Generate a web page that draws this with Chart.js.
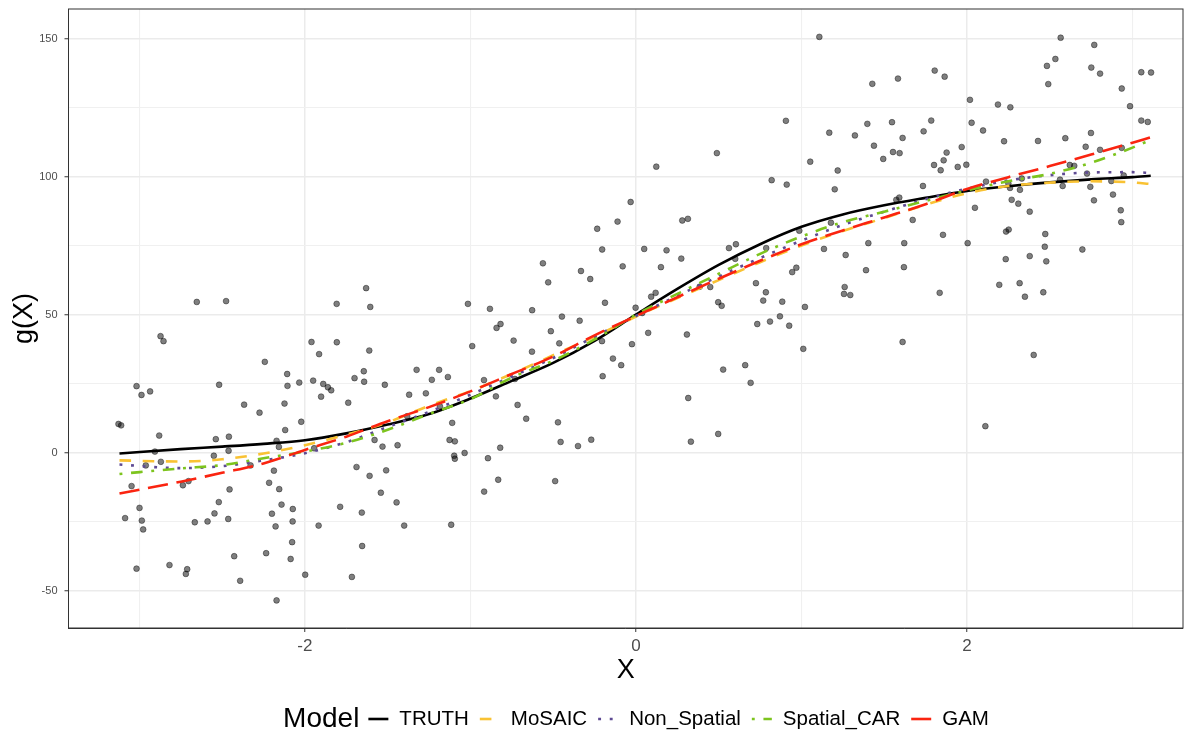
<!DOCTYPE html>
<html>
<head>
<meta charset="utf-8">
<script src="https://cdn.jsdelivr.net/npm/chart.js@4"></script>
<style>
  html, body { margin: 0; padding: 0; background: #fff; }
  #wrap { width: 1195px; height: 731px; }
</style>
</head>
<body>
<div id="wrap"><canvas id="myChart" width="1195" height="731"></canvas></div>
<script>
  // observed points (X, g(X))
  const pointX = [
    -2.653, -2.476, -1.808,
    -2.872, -2.854, -1.960, -1.807, -1.914, -2.242, -2.107, -1.700, -1.950, -2.034,
    -3.017, -2.518, -2.105, -1.889, -1.861, -1.841, -2.987, -2.935, -1.902, -2.123,
    -2.367, -1.738, -2.274, -2.022, -3.126, -3.110, -2.119, -2.880, -2.538, -2.459,
    -2.171, -2.157, -2.906, -2.461, -1.944, -2.550, -2.870, -2.961, -2.328, -1.688,
    -2.187, -3.047, -2.737, -2.703, -2.216, -2.455, -2.155, -2.520, -2.141, -2.999,
    -2.073, -1.787, -2.546, -2.199, -3.086, -2.985, -2.665, -2.588, -2.463, -2.074,
    -2.977, -2.177, -1.917, -2.077, -2.427, -2.234, -2.086, -3.017, -2.818, -2.711,
    -2.719, -1.998, -1.716, -2.391, -2.171,
    -1.630, -1.605, -1.015, -0.882, -0.627, -0.562, -0.530, -0.447, -0.332, -0.276,
    -0.234, -0.204, -0.187, -0.111, -0.080, -0.032, -0.002,
    -0.842, -0.818, -0.340, -1.611, -0.989, -0.739, -0.514, -0.463, -0.628, -0.024,
    -0.205, -0.139, -0.089, -0.201, -1.644, -1.642, -1.517, -1.325, -1.189, -1.233,
    -1.136, -0.918, -0.731, -1.370, -1.269, -1.184, -0.846, -0.715, -0.663, -1.110,
    -1.382, -0.471, -1.579, -1.531, -1.440, -1.126, -1.094, -0.820, -0.455, -0.350,
    -0.270, -1.098, -1.094, -1.035, -0.894, -1.609, -1.509, -0.832, -0.488, -1.541,
    -0.917, -1.446, -1.656, -1.400, -1.116, -1.654,
    1.108, 1.428, 1.583, 0.906, 1.168, 1.323, 1.398, 1.547, 1.611, 1.438,
    1.553, 1.593, 1.494, 0.489, 0.123, 1.053, 1.219, 0.820, 0.911, 1.201,
    1.573, 1.591, 0.280, 0.314, 1.178, 0.987, 0.050, 0.185, 0.562, 0.604,
    0.787, 1.136, 1.404, 1.621, 0.274, 0.151, 0.600, 1.267, 0.944, 0.969,
    1.390, 1.619, 0.725, 0.449, 0.385, 0.119, 0.092, 0.785, 1.261, 1.257,
    1.295, 0.038, 0.497, 0.518, 0.769, 0.884, 1.021, 0.870,
    0.074, 0.308, 0.733, 0.810, 0.926, 1.011, 1.611, 0.527, 0.660, 0.693,
    0.316, 0.497, 0.332,
    2.566, 2.769, 2.534, 2.483, 2.751, 2.804, 1.805, 1.865, 2.491, 3.053,
    3.112, 2.935, 2.018, 2.187, 2.262, 2.985, 1.784, 2.028, 1.738, 2.097,
    3.053, 3.092, 2.749, 2.594, 2.224, 2.429, 1.968, 1.877, 2.717, 2.804,
    2.935, 1.859, 1.801, 1.841, 1.944, 1.996, 2.621, 2.648, 2.725, 2.115,
    2.250, 2.331, 2.562, 2.872, 2.947, 1.734, 2.260, 2.320, 2.578, 2.745,
    2.882, 2.767, 2.270, 2.310, 2.379, 2.048, 1.672, 2.929, 2.932, 1.855,
    2.236, 2.252, 2.473, 2.004, 2.470, 2.697, 2.234, 2.379, 2.479, 1.835,
    2.195, 2.318, 2.350, 2.461,
    2.403, 2.111
  ];
  const pointY = [
    54.6, 54.9, 53.9,
    42.2, 40.4, 40.1, 40.0, 35.7, 32.9, 28.5, 27.0, 26.1, 25.4,
    24.1, 24.6, 24.2, 24.9, 23.7, 22.6, 20.9, 22.2, 20.3, 17.8,
    17.4, 18.1, 14.5, 11.2, 10.4, 9.9, 8.2, 6.2, 4.9, 5.8,
    4.3, 2.1, 0.4, 0.7, 1.6, -1.1, -3.3, -4.6, -4.6, -5.2,
    -6.5, -12.1, -11.8, -10.3, -10.9, -13.3, -13.2, -17.9, -18.8, -20.0,
    -20.4, -19.6, -22.0, -22.1, -23.7, -24.6, -25.2, -24.9, -24.0, -24.9,
    -27.8, -26.7, -26.4, -32.4, -37.5, -36.4, -38.5, -42.0, -40.7, -42.2,
    -43.9, -44.2, -45.0, -46.4, -53.5,
    59.6, 52.8, 53.9, 52.1, 51.6, 68.6, 61.7, 49.3, 65.8, 62.9,
    81.1, 73.6, 54.3, 83.7, 67.5, 90.8, 52.5,
    45.2, 46.6, 47.8, 37.0, 38.6, 40.6, 44.0, 39.6, 36.6, 39.3,
    40.4, 34.1, 31.7, 27.7, 29.5, 25.7, 24.6, 30.0, 30.0, 26.4,
    27.4, 26.3, 26.7, 21.0, 21.5, 16.8, 20.4, 17.3, 12.3, 10.8,
    13.2, 11.0, 4.6, 2.2, 2.7, 4.6, 4.1, 1.8, 3.9, 2.4,
    4.7, -1.1, -2.2, -0.1, -2.0, -8.4, -6.4, -9.8, -10.3, -14.5,
    -14.1, -18.0, -21.7, -26.4, -26.1, -33.8,
    150.6, 133.6, 135.5, 120.2, 115.9, 114.9, 119.1, 119.7, 114.0, 111.2,
    108.9, 108.5, 106.4, 108.5, 103.6, 105.4, 102.2, 98.7, 97.1, 95.4,
    91.6, 92.4, 84.1, 84.7, 83.3, 80.4, 73.8, 73.3, 74.1, 75.5,
    74.1, 73.8, 75.9, 75.9, 70.3, 67.2, 70.2, 71.6, 65.4, 67.0,
    66.1, 67.2, 61.4, 60.0, 60.1, 57.9, 56.5, 58.1, 60.0, 57.5,
    57.1, 50.6, 54.5, 53.2, 55.1, 54.7, 52.8, 49.4,
    43.4, 42.8, 46.6, 47.5, 46.0, 37.6, 40.1, 30.1, 31.7, 25.3,
    19.8, 6.8, 4.0,
    150.3, 147.7, 142.6, 140.1, 139.5, 137.3, 138.4, 136.2, 133.5, 137.8,
    137.7, 131.9, 127.8, 126.1, 125.1, 125.5, 120.3, 119.5, 116.4, 116.7,
    120.3, 119.8, 115.8, 113.9, 112.8, 112.9, 110.7, 108.7, 110.8, 109.7,
    110.4, 105.9, 104.2, 102.3, 103.5, 104.3, 104.2, 103.9, 101.1, 98.2,
    97.5, 99.3, 98.9, 98.4, 100.4, 96.6, 95.9, 95.2, 96.6, 96.3,
    93.5, 91.4, 91.6, 90.2, 87.3, 88.7, 84.3, 87.8, 83.5, 78.9,
    80.1, 80.8, 79.2, 75.9, 74.6, 73.6, 70.1, 71.2, 69.3, 57.9,
    60.8, 61.4, 56.5, 58.1,
    35.4, 9.6
  ];

  const curveX = [-3.12, -2.75, -2.5, -2.25, -2, -1.75, -1.5, -1.25, -1, -0.75, -0.5, -0.25, 0,
                  0.25, 0.5, 0.75, 1, 1.25, 1.5, 1.75, 2, 2.25, 2.5, 2.75, 3, 3.11];
  const truth      = [-0.3, 1.3, 2.2, 3.2, 4.5, 7.0, 10.2, 14.0, 19.6, 26.0, 32.5, 40.5, 50.0,
                      59.3, 68.0, 75.5, 81.8, 86.3, 89.6, 92.3, 94.8, 96.5, 97.9, 99.0, 99.8, 100.3];
  const mosaic     = [-2.8, -3.2, -2.4, -0.3, 2.7, 6.5, 11.0, 17.0, 22.3, 28.5, 35.3, 42.0, 49.3,
                      56.0, 62.5, 69.0, 75.0, 80.3, 85.0, 89.8, 94.0, 96.6, 97.8, 98.3, 97.9, 97.3];
  const nonSpatial = [-4.3, -5.6, -4.9, -2.8, -0.2, 3.8, 9.3, 14.8, 21.0, 27.6, 34.3, 42.0, 49.5,
                      56.8, 63.8, 70.5, 76.8, 82.5, 87.3, 91.8, 95.6, 98.6, 100.5, 101.5, 101.6, 101.3];
  const spatialCAR = [-7.7, -5.7, -4.5, -2.0, 0.4, 3.6, 8.3, 14.0, 19.4, 27.2, 33.3, 41.0, 50.0,
                      57.5, 64.8, 72.0, 78.3, 83.5, 87.3, 91.2, 95.0, 98.3, 101.0, 105.0, 110.5, 113.3];
  const gam        = [-14.8, -10.5, -7.3, -3.9, 1.0, 5.8, 11.4, 16.5, 22.2, 28.5, 34.8, 42.5, 49.5,
                      56.3, 63.0, 69.5, 75.5, 80.5, 85.2, 90.0, 95.5, 99.8, 103.8, 108.0, 112.3, 114.2];

  const xTicks = [-2, 0, 2];
  const yTicks = [-50, 0, 50, 100, 150];

  const FONT = '"Liberation Sans", Arial, Helvetica, sans-serif';
  const u = 2.9; // linetype unit

  const models = [
    { label: 'TRUTH',       data: truth,      color: '#000000', dash: [] },
    { label: 'MoSAIC',      data: mosaic,     color: '#F9C233', dash: [4 * u, 4 * u] },
    { label: 'Non_Spatial', data: nonSpatial, color: '#5E4A93', dash: [1 * u, 3 * u] },
    { label: 'Spatial_CAR', data: spatialCAR, color: '#7DC41E', dash: [1 * u, 3 * u, 4 * u, 3 * u] },
    { label: 'GAM',         data: gam,        color: '#FA2410', dash: [7 * u, 3 * u] }
  ];

  const lineSets = models.map((m, i) => ({
    type: 'line',
    label: m.label,
    data: curveX.map((x, k) => ({ x: x, y: m.data[k] })),
    borderColor: m.color,
    backgroundColor: m.color,
    borderWidth: 2.6,
    borderDash: m.dash,
    borderCapStyle: 'butt',
    pointRadius: 0,
    cubicInterpolationMode: 'monotone',
    fill: false,
    order: 5 - i
  }));

  const pointSet = {
    type: 'scatter',
    label: 'obs',
    data: pointX.map((x, k) => ({ x: x, y: pointY[k] })),
    backgroundColor: 'rgba(0,0,0,0.5)',
    borderColor: 'rgba(0,0,0,0.45)',
    borderWidth: 0.9,
    pointRadius: 2.9,
    order: 10
  };

  // panel border + legend drawn by hand (ggplot style)
  const panelAndLegend = {
    id: 'panelAndLegend',
    afterDraw(chart) {
      const ctx = chart.ctx;
      const a = chart.chartArea;
      ctx.save();
      ctx.strokeStyle = '#333333';
      ctx.lineWidth = 1;
      ctx.strokeRect(a.left, a.top, a.right - a.left, a.bottom - a.top);

      // legend
      const y = 719;
      ctx.textBaseline = 'middle';
      ctx.fillStyle = '#000';
      ctx.font = '28px ' + FONT;
      const titleW = ctx.measureText('Model').width;
      ctx.font = '20.5px ' + FONT;
      let total = titleW + 9;
      models.forEach((m, i) => {
        total += 31 + ctx.measureText(m.label).width + (i < models.length - 1 ? 11 : 0);
      });
      let x = 636 - total / 2;
      ctx.font = '28px ' + FONT;
      ctx.textAlign = 'left';
      ctx.fillText('Model', x, y);
      x += titleW + 9;
      ctx.font = '20.5px ' + FONT;
      models.forEach((m) => {
        ctx.beginPath();
        ctx.setLineDash(m.dash);
        ctx.lineDashOffset = 0;
        ctx.lineCap = 'butt';
        ctx.strokeStyle = m.color;
        ctx.lineWidth = 2.6;
        ctx.moveTo(x, y);
        ctx.lineTo(x + 20, y);
        ctx.stroke();
        ctx.setLineDash([]);
        ctx.fillStyle = '#000';
        ctx.fillText(m.label, x + 31, y);
        x += 31 + ctx.measureText(m.label).width + 11;
      });
      ctx.restore();
    }
  };

  const config = {
    data: { datasets: [pointSet].concat(lineSets) },
    options: {
      responsive: false,
      animation: false,
      devicePixelRatio: 1,
      layout: { padding: { top: 9, right: 12, bottom: 42, left: 0 } },
      plugins: {
        legend: { display: false },
        tooltip: { enabled: false },
        title: { display: false }
      },
      scales: {
        x: {
          type: 'linear',
          min: -3.428,
          max: 3.305,
          afterFit: (scale) => {
            scale.height = 61;
            scale.paddingLeft = 0;
            scale.paddingRight = 0;
          },
          ticks: {
            stepSize: 1,
            includeBounds: false,
            autoSkip: false,
            maxRotation: 0,
            padding: 4,
            color: '#4D4D4D',
            font: { family: FONT, size: 17 },
            callback: (v) => xTicks.includes(v) ? String(v) : ''
          },
          grid: {
            color: (c) => xTicks.includes(c.tick && c.tick.value) ? '#EBEBEB' : '#F0F0F0',
            lineWidth: (c) => xTicks.includes(c.tick && c.tick.value) ? 1.5 : 1.1,
            tickColor: (c) => xTicks.includes(c.tick && c.tick.value) ? '#333333' : 'rgba(0,0,0,0)',
            tickLength: 4,
            tickWidth: 1
          },
          border: { display: true, color: '#333333', width: 1 },
          title: {
            display: true,
            text: 'X',
            color: '#000',
            font: { family: FONT, size: 27 },
            padding: { top: 0, bottom: 2 }
          }
        },
        y: {
          type: 'linear',
          min: -63.5,
          max: 160.7,
          afterFit: (scale) => {
            scale.width = 68.5;
            scale.paddingTop = 0;
            scale.paddingBottom = 0;
          },
          ticks: {
            stepSize: 25,
            includeBounds: false,
            autoSkip: false,
            padding: 7,
            color: '#4D4D4D',
            font: { family: FONT, size: 11 },
            callback: (v) => yTicks.includes(v) ? String(v) : ''
          },
          grid: {
            color: (c) => yTicks.includes(c.tick && c.tick.value) ? '#EBEBEB' : '#F0F0F0',
            lineWidth: (c) => yTicks.includes(c.tick && c.tick.value) ? 1.5 : 1.1,
            tickColor: (c) => yTicks.includes(c.tick && c.tick.value) ? '#333333' : 'rgba(0,0,0,0)',
            tickLength: 4,
            tickWidth: 1
          },
          border: { display: true, color: '#333333', width: 1 },
          title: {
            display: true,
            text: 'g(X)',
            color: '#000',
            font: { family: FONT, size: 27 },
            padding: { top: 8, bottom: 0 }
          }
        }
      }
    },
    plugins: [panelAndLegend]
  };

  const myChart = new Chart(document.getElementById('myChart'), config);
</script>
</body>
</html>
